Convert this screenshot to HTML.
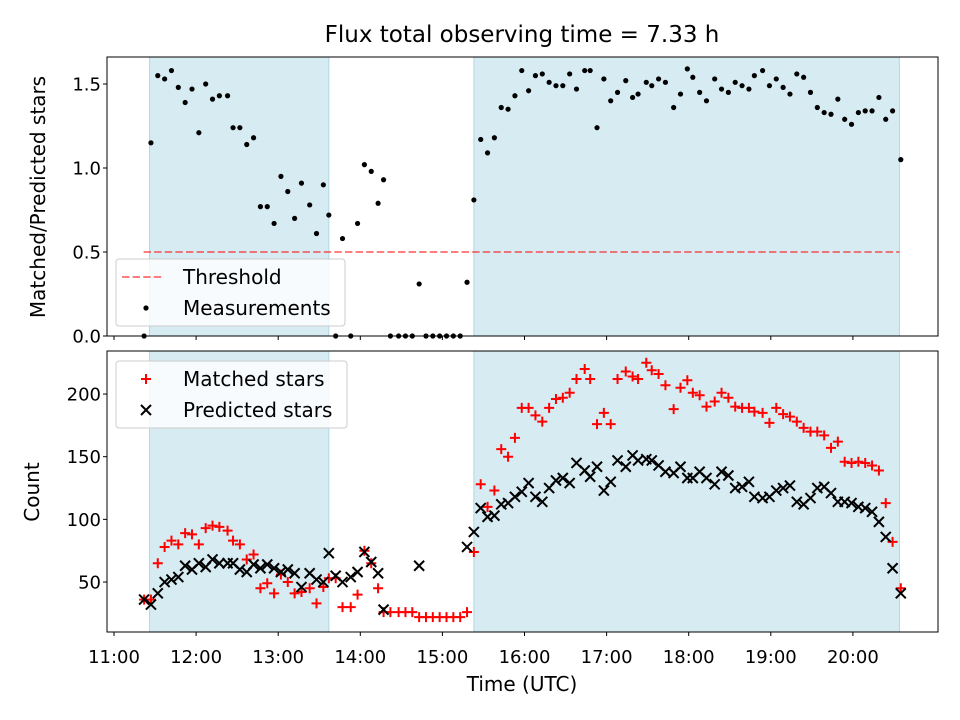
<!DOCTYPE html>
<html><head><meta charset="utf-8">
<style>
body{margin:0;background:#fff;}
svg{display:block;font-family:"DejaVu Sans","Liberation Sans",sans-serif;}
</style></head>
<body>
<svg id="chart" width="960" height="720" viewBox="0 0 960 720">
<text x="522" y="42" font-size="23" text-anchor="middle">Flux total observing time = 7.33 h</text>
<g id="topPanel"></g>
<g id="botPanel"></g>
<text x="522" y="691" font-size="20" text-anchor="middle">Time (UTC)</text>
<text transform="translate(45,197) rotate(-90)" font-size="20" text-anchor="middle">Matched/Predicted stars</text>
<text transform="translate(39,492) rotate(-90)" font-size="20" text-anchor="middle">Count</text>
</svg>
<script>
// minutes after 11:00 UTC
const times=[22,27,32,37,42,47,52,57,62,67,72,77,83,87,92,97,102,107,112,117,122,127,132,137,143,148,153,157,162,167,173,178,183,188,193,197,202,208,213,218,223,228,233,238,243,248,253,258,263,268,273,278,283,288,293,298,303,308,313,318,323,328,333,338,344,348,353,358,363,368,374,379,383,389,393,398,403,409,414,419,423,428,433,439,444,449,454,459,464,468,474,479,484,489,494,499,504,509,514,519,524,529,534,539,544,549,554,559,564,569,575];
const ratio=[0,1.15,1.55,1.53,1.58,1.48,1.39,1.47,1.21,1.50,
1.41,1.43,1.43,1.24,1.24,1.14,1.18,0.77,0.77,0.67,
0.95,0.86,0.70,0.91,0.78,0.61,0.90,0.72,0,0.58,
0,0.67,1.02,0.98,0.79,0.93,0,0,0,0,
0.31,0,0,0,0,0,0,0.32,0.81,1.17,
1.09,1.18,1.36,1.35,1.43,1.58,1.46,1.55,1.56,1.51,
1.49,1.49,1.56,1.47,1.58,1.58,1.24,1.53,1.40,1.45,
1.52,1.42,1.44,1.51,1.49,1.53,1.51,1.36,1.44,1.59,
1.54,1.45,1.40,1.53,1.47,1.45,1.51,1.49,1.47,1.55,
1.58,1.49,1.53,1.48,1.44,1.56,1.54,1.45,1.36,1.33,
1.32,1.41,1.29,1.26,1.33,1.34,1.34,1.42,1.29,1.34,1.05];
const matched=[36,36,65,78,83,80,89,88,80,93,
95,94,91,83,80,68,72,45,49,41,
56,50,41,42,45,33,46,53,53,30,
30,40,75,65,45,26,26,26,26,26,
22,22,22,22,22,22,22,26,74,128,
110,123,156,150,165,189,189,183,178,189,
196,197,201,212,220,212,176,185,176,212,
218,214,212,225,219,216,207,188,205,211,
201,199,190,194,201,197,190,189,189,186,
185,177,189,184,182,178,173,170,170,167,
157,162,146,145,146,145,143,139,113,82,45];
const predicted=[36,32,41,50,52,54,63,60,65,62,
68,65,65,65,60,58,64,61,64,61,
58,60,57,46,57,52,50,73,55,50,
54,58,74,66,57,28,null,null,null,null,
63,null,null,null,null,null,null,78,90,109,
102,103,112,113,118,122,129,118,114,125,
131,133,129,145,139,134,142,123,130,147,
142,151,147,148,147,143,138,137,142,133,
133,138,133,128,138,135,125,126,130,118,
117,118,123,125,127,114,112,117,125,126,
121,114,114,113,110,109,106,98,86,61,41];
const shadedSpans=[[26,157],[263,574]];
const threshold=0.5;
const xTickLabels=["11:00","12:00","13:00","14:00","15:00","16:00","17:00","18:00","19:00","20:00"];
const topTicks=[0,0.5,1.0,1.5];
const botTicks=[50,100,150,200];

const NS="http://www.w3.org/2000/svg";
const L=107,R=938,T1=57,B1=336,T2=351,B2=632;
const xs=m=>114+m*82.1/60;
const y1=v=>336-168*v;
const y2=c=>644.7-1.2533*c;
function mk(p,tag,a){const e=document.createElementNS(NS,tag);for(const k in a)e.setAttribute(k,a[k]);p.appendChild(e);return e;}
const topG=document.getElementById('topPanel'),botG=document.getElementById('botPanel');
const svg=document.getElementById('chart');

function panel(g,T,B){
  shadedSpans.forEach(s=>{
    const r=mk(g,'rect',{x:xs(s[0]),y:T,width:xs(s[1])-xs(s[0]),height:B-T,fill:'#add8e6','fill-opacity':0.5,stroke:'#add8e6','stroke-width':1});
    
    
  });
}
panel(topG,T1,B1);panel(botG,T2,B2);

const th=mk(topG,'line',{x1:xs(26)-6,x2:xs(574),y1:y1(threshold),y2:y1(threshold),stroke:'#ff0000','stroke-opacity':0.5,'stroke-width':2,'stroke-dasharray':'7.4,3.2'});



times.forEach((t,i)=>{
  const c=mk(topG,'circle',{cx:xs(t),cy:y1(ratio[i]),r:2.6,fill:'#000'});
  
  
});
times.forEach((t,i)=>{
  const x=xs(t),y=y2(matched[i]);
  const p=mk(botG,'path',{d:`M${x-5},${y}H${x+5}M${x},${y-5}V${y+5}`,stroke:'#ff0000','stroke-width':2,fill:'none'});
  
  
});
times.forEach((t,i)=>{
  if(predicted[i]==null)return;
  const x=xs(t),y=y2(predicted[i]);
  const p=mk(botG,'path',{d:`M${x-5},${y-5}L${x+5},${y+5}M${x-5},${y+5}L${x+5},${y-5}`,stroke:'#000','stroke-width':2,fill:'none'});
  
  
});

[[T1,B1],[T2,B2]].forEach(([T,B])=>{
  const f=mk(svg,'rect',{x:L,y:T,width:R-L,height:B-T,fill:'none',stroke:'#000','stroke-width':1});
  
  
});
xTickLabels.forEach((lab,i)=>{
  const x=xs(i*60);
  mk(svg,'line',{x1:x,x2:x,y1:B1,y2:B1+4,stroke:'#000'});
  mk(svg,'line',{x1:x,x2:x,y1:B2,y2:B2+4,stroke:'#000'});
  const tx=mk(svg,'text',{x:x,y:B2+31,'font-size':18,'text-anchor':'middle'});
  tx.textContent=lab;
  
  
});
topTicks.forEach(v=>{
  const y=y1(v);
  mk(svg,'line',{x1:L-4,x2:L,y1:y,y2:y,stroke:'#000'});
  const tx=mk(svg,'text',{x:L-6,y:y+6.5,'font-size':18,'text-anchor':'end'});
  tx.textContent=v.toFixed(1);
  
  
});
botTicks.forEach(v=>{
  const y=y2(v);
  mk(svg,'line',{x1:L-4,x2:L,y1:y,y2:y,stroke:'#000'});
  const tx=mk(svg,'text',{x:L-6,y:y+6.5,'font-size':18,'text-anchor':'end'});
  tx.textContent=v;
  
  
});

function legend(x,y,w,h,items,name){
  const g=mk(svg,'g',{});
  
  
  mk(g,'rect',{x:x,y:y,width:w,height:h,rx:3,fill:'#fff','fill-opacity':0.8,stroke:'#ccc'});
  items.forEach((it,i)=>{
    const cy=y+18+i*31;
    const sx=x+30;
    if(it.k==='dash')mk(g,'line',{x1:sx-24,x2:sx+17,y1:cy,y2:cy,stroke:'#ff0000','stroke-opacity':0.5,'stroke-width':2,'stroke-dasharray':'7.4,3.2'});
    if(it.k==='dot')mk(g,'circle',{cx:sx,cy:cy,r:2.6,fill:'#000'});
    if(it.k==='plus')mk(g,'path',{d:`M${sx-5},${cy}H${sx+5}M${sx},${cy-5}V${cy+5}`,stroke:'#ff0000','stroke-width':2});
    if(it.k==='x')mk(g,'path',{d:`M${sx-5},${cy-5}L${sx+5},${cy+5}M${sx-5},${cy+5}L${sx+5},${cy-5}`,stroke:'#000','stroke-width':2});
    const t=mk(g,'text',{x:x+67,y:cy+7,'font-size':20});
    t.textContent=it.t;
    
    
  });
}
legend(116,259,229,67,[{k:'dash',t:'Threshold'},{k:'dot',t:'Measurements'}],'top-legend');
legend(116,361,231,67,[{k:'plus',t:'Matched stars'},{k:'x',t:'Predicted stars'}],'bottom-legend');
</script>
</body></html>
